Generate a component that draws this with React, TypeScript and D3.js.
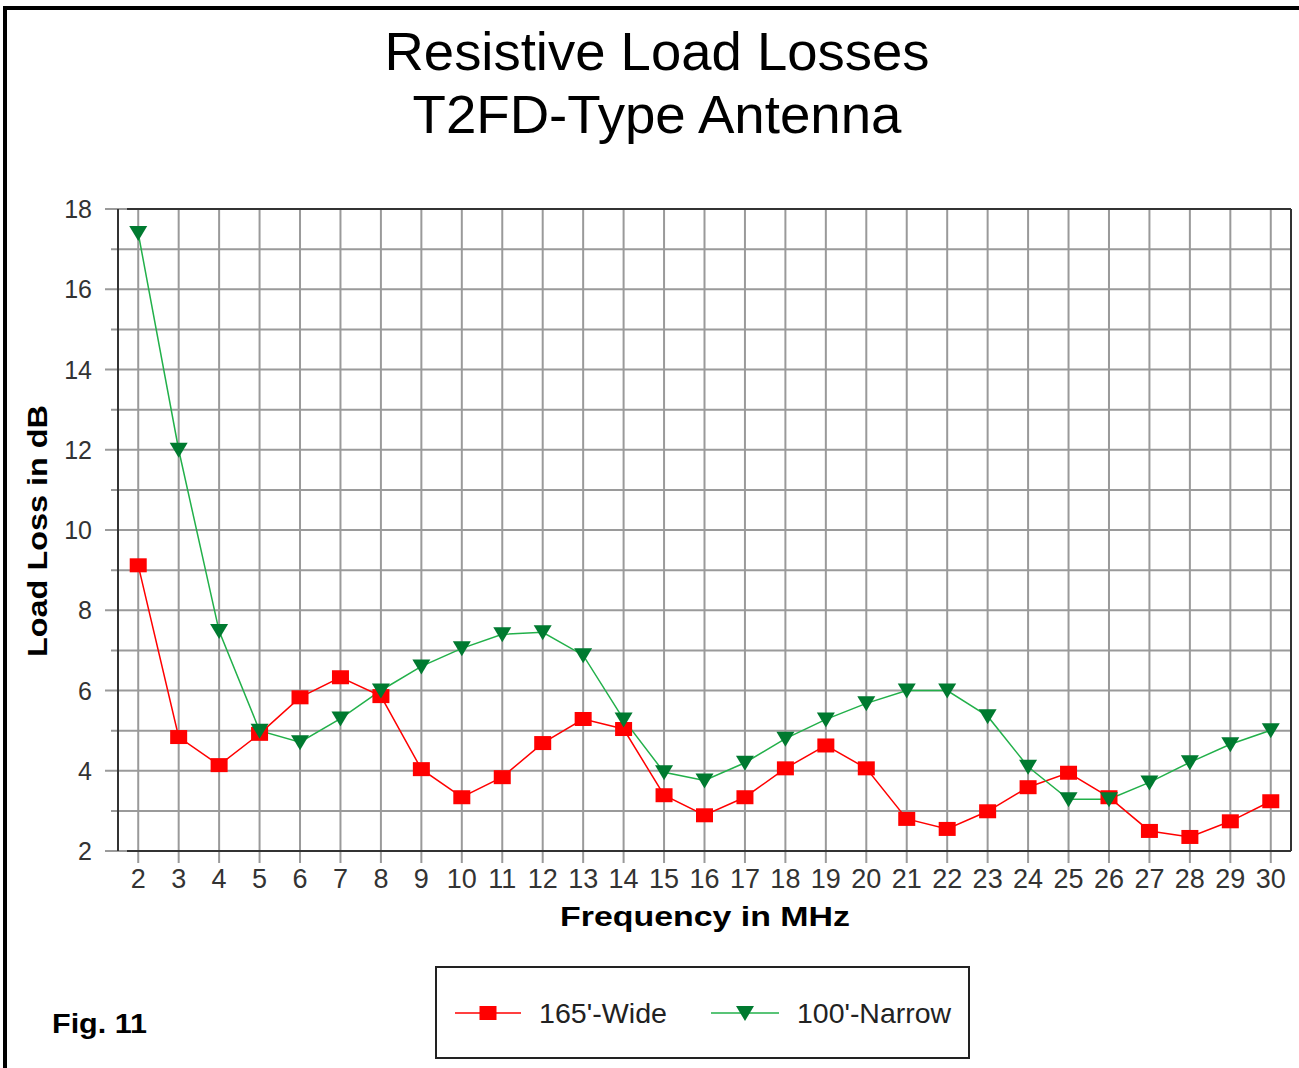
import React from "react";
import * as d3 from "d3";

const freqs = [2,3,4,5,6,7,8,9,10,11,12,13,14,15,16,17,18,19,20,21,22,23,24,25,26,27,28,29,30];
const wideLoss = [9.12,4.84,4.14,4.92,5.83,6.33,5.86,4.04,3.34,3.84,4.69,5.29,5.04,3.39,2.89,3.34,4.06,4.63,4.06,2.8,2.55,2.99,3.59,3.95,3.34,2.5,2.35,2.74,3.24];
const narrowLoss = [17.4,12.0,7.48,5.0,4.71,5.3,6.0,6.6,7.05,7.4,7.45,6.88,5.28,3.96,3.76,4.2,4.8,5.28,5.68,6.0,6.0,5.36,4.1,3.29,3.29,3.71,4.21,4.66,5.01];
const yTicks = [2,4,6,8,10,12,14,16,18];
const yGrid = d3.range(2, 19, 1);
const titleLines = ["Resistive Load Losses", "T2FD-Type Antenna"];
const seriesNames = ["165'-Wide", "100'-Narrow"];

const W = 1299, H = 1068;
const L = 118, R = 1291, T = 209, B = 851;
const RED = "#ff0000";
const GREEN_LINE = "#22b04a";
const GREEN_MARK = "#007a30";
const GRID = "#9a9a9a";
const AXIS = "#333333";
const FONT = "'Liberation Sans', Arial, sans-serif";

export default function App() {
  const x = d3.scalePoint<number>().domain(freqs).range([L, R]).padding(0.5);
  const y = d3.scaleLinear().domain([2, 18]).range([B, T]);
  const line = d3.line<number>().x((_, i) => x(freqs[i])!).y((d) => y(d));

  const square = (cx: number, cy: number, key: any) => (
    <rect key={key} x={cx - 8.5} y={cy - 7} width={17} height={14} fill={RED} />
  );
  const tri = (cx: number, cy: number, key: any) => (
    <path key={key} d={`M${cx - 9},${cy - 7}L${cx + 9},${cy - 7}L${cx},${cy + 8}Z`} fill={GREEN_MARK} />
  );

  return (
    <svg width={W} height={H} style={{ position: "absolute", left: 0, top: 0, background: "#fff" }} fontFamily={FONT}>
      <rect x={0} y={0} width={W} height={H} fill="#fff" />
      {/* outer frame */}
      <line x1={3} y1={8} x2={W} y2={8} stroke="#000" strokeWidth={4} />
      <line x1={5} y1={6} x2={5} y2={H} stroke="#000" strokeWidth={4} />

      {/* title */}
      <text x={657} y={70} textAnchor="middle" fontSize={53} fill="#000" textLength={545} lengthAdjust="spacingAndGlyphs">{titleLines[0]}</text>
      <text x={657} y={133} textAnchor="middle" fontSize={53} fill="#000" textLength={489} lengthAdjust="spacingAndGlyphs">{titleLines[1]}</text>

      {/* horizontal grid */}
      {yGrid.map((v) => (
        <line key={"h" + v} x1={v % 2 === 0 ? 105 : 111} x2={R} y1={y(v)} y2={y(v)} stroke={GRID} strokeWidth={2} />
      ))}
      {/* vertical grid */}
      {freqs.map((f) => (
        <line key={"v" + f} x1={x(f)} x2={x(f)} y1={T} y2={B + 12} stroke={GRID} strokeWidth={2} />
      ))}
      {/* plot frame */}
      <line x1={L} x2={L} y1={T} y2={B} stroke={AXIS} strokeWidth={2} />
      <line x1={127} x2={R} y1={B} y2={B} stroke={AXIS} strokeWidth={2} />
      <line x1={127} x2={R} y1={T} y2={T} stroke={AXIS} strokeWidth={2} />
      <line x1={R} x2={R} y1={T} y2={B} stroke={AXIS} strokeWidth={2} />

      {/* y tick labels */}
      {yTicks.map((v) => (
        <text key={"yt" + v} x={92} y={y(v) + 9} textAnchor="end" fontSize={25} fill="#333">{v}</text>
      ))}
      {/* x tick labels */}
      {freqs.map((f) => (
        <text key={"xt" + f} x={x(f)} y={888} textAnchor="middle" fontSize={27} fill="#333">{f}</text>
      ))}

      {/* axis titles */}
      <text x={705} y={926} textAnchor="middle" fontSize={28} fontWeight="bold" fill="#000" textLength={290} lengthAdjust="spacingAndGlyphs">Frequency in MHz</text>
      <text transform="translate(47,531) rotate(-90)" textAnchor="middle" fontSize={28} fontWeight="bold" fill="#000" textLength={252} lengthAdjust="spacingAndGlyphs">Load Loss in dB</text>

      {/* series */}
      <path d={line(wideLoss)!} fill="none" stroke={RED} strokeWidth={1.5} />
      <path d={line(narrowLoss)!} fill="none" stroke={GREEN_LINE} strokeWidth={1.5} />
      {wideLoss.map((v, i) => square(x(freqs[i])!, y(v), "s" + i))}
      {narrowLoss.map((v, i) => tri(x(freqs[i])!, y(v), "t" + i))}

      {/* legend */}
      <rect x={436} y={967} width={533} height={91} fill="#fff" stroke="#222" strokeWidth={2} />
      <line x1={455} x2={521} y1={1013} y2={1013} stroke={RED} strokeWidth={1.5} />
      {square(488, 1013, "ls")}
      <text x={539} y={1023} fontSize={28} fill="#222" textLength={128} lengthAdjust="spacingAndGlyphs">{seriesNames[0]}</text>
      <line x1={711} x2={779} y1={1013} y2={1013} stroke={GREEN_LINE} strokeWidth={1.5} />
      {tri(745, 1013, "lt")}
      <text x={797} y={1023} fontSize={28} fill="#222" textLength={154} lengthAdjust="spacingAndGlyphs">{seriesNames[1]}</text>

      <text x={52} y={1033} fontSize={27} fontWeight="bold" fill="#000" textLength={95} lengthAdjust="spacingAndGlyphs">Fig. 11</text>
    </svg>
  );
}
